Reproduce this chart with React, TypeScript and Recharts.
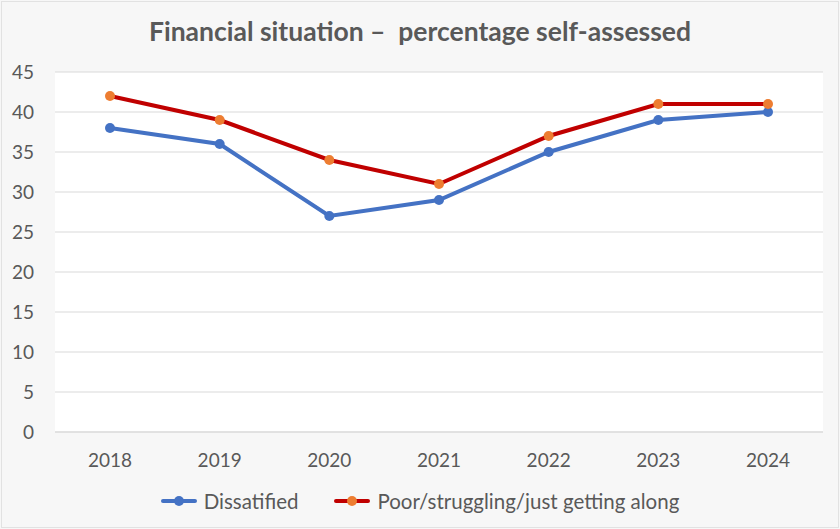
import { LineChart, Line, XAxis, YAxis, CartesianGrid } from "recharts";

// ── data ─────────────────────────────────────────────────────────────────────

const years = ["2018", "2019", "2020", "2021", "2022", "2023", "2024"];
const dissatisfied = [38, 36, 27, 29, 35, 39, 40];
const poorStruggling = [42, 39, 34, 31, 37, 41, 41];
const yTicks = [0, 5, 10, 15, 20, 25, 30, 35, 40, 45];

const chartData = years.map((y, i) => ({
  year: y,
  dissatisfied: dissatisfied[i],
  poor: poorStruggling[i],
}));

const FONT = "Lato, 'Open Sans', sans-serif";
const TEXT = "#595959";

// ── legend ───────────────────────────────────────────────────────────────────

function LegendItem({ line, dot, label }: { line: string; dot: string; label: string }) {
  return (
    <div style={{ display: "flex", alignItems: "center", gap: 7 }}>
      <svg width={36} height={12}>
        <line x1={2} y1={6} x2={34} y2={6} stroke={line} strokeWidth={4} strokeLinecap="round" />
        <circle cx={18} cy={6} r={5} fill={dot} />
      </svg>
      <span>{label}</span>
    </div>
  );
}

function ChartLegend() {
  return (
    <div
      style={{
        position: "absolute",
        top: 489,
        left: 0,
        width: 840,
        display: "flex",
        justifyContent: "center",
        gap: 36,
        fontFamily: FONT,
        fontSize: 20.5,
        color: TEXT,
      }}
    >
      <LegendItem line="#4472C4" dot="#4472C4" label="Dissatified" />
      <LegendItem line="#C00000" dot="#ED7D31" label="Poor/struggling/just getting along" />
    </div>
  );
}

// ── chart ────────────────────────────────────────────────────────────────────

export default function App() {
  return (
    <div
      style={{
        position: "relative",
        width: 840,
        height: 529,
        background: "#f7f7f7",
      }}
    >
      <style>{`body{margin:0}`}</style>
      <div
        style={{
          position: "absolute",
          inset: 1,
          border: "1px solid #e2e2e2",
          pointerEvents: "none",
        }}
      />
      <div
        style={{
          position: "absolute",
          top: 15,
          left: 0,
          width: 840,
          textAlign: "center",
          fontFamily: FONT,
          fontWeight: 700,
          fontSize: 26.5,
          color: TEXT,
          whiteSpace: "pre",
        }}
      >
        {"Financial situation –  percentage self-assessed"}
      </div>
      <LineChart
        width={840}
        height={529}
        data={chartData}
        margin={{ top: 72, right: 17, left: 0, bottom: 57 }}
        style={{ position: "absolute", top: 0, left: 0 }}
      >
        <CartesianGrid vertical={false} stroke="#d9d9d9" fill="#ffffff" />
        <XAxis
          dataKey="year"
          axisLine={{ stroke: "#d9d9d9" }}
          tickLine={false}
          tickSize={0}
          tickMargin={22}
          height={40}
          padding={{ left: 55, right: 55 }}
          tick={{ fontSize: 19, fill: TEXT, fontFamily: FONT }}
        />
        <YAxis
          domain={[0, 45]}
          ticks={yTicks}
          interval={0}
          axisLine={false}
          tickLine={false}
          tickSize={0}
          tickMargin={21}
          width={55}
          tick={{ fontSize: 19, fill: TEXT, fontFamily: FONT }}
        />
        <Line
          dataKey="dissatisfied"
          name="Dissatified"
          stroke="#4472C4"
          strokeWidth={4}
          dot={{ r: 5, fill: "#4472C4", stroke: "#4472C4", strokeWidth: 0 }}
          isAnimationActive={false}
        />
        <Line
          dataKey="poor"
          name="Poor/struggling/just getting along"
          stroke="#C00000"
          strokeWidth={4}
          dot={{ r: 5, fill: "#ED7D31", stroke: "#ED7D31", strokeWidth: 0 }}
          isAnimationActive={false}
        />
      </LineChart>
      <ChartLegend />
    </div>
  );
}
